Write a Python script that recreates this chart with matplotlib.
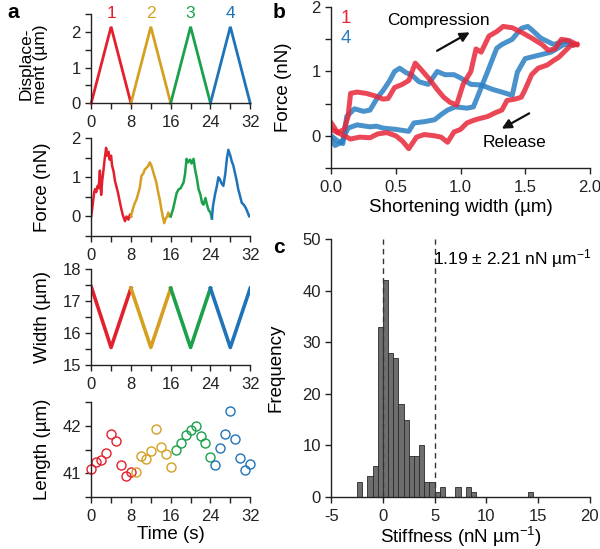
import numpy as np
import matplotlib.pyplot as plt
from matplotlib.ticker import MultipleLocator

plt.rcParams['font.family'] = ['Liberation Sans', 'DejaVu Sans']
plt.rcParams['mathtext.fontset'] = 'custom'
plt.rcParams['mathtext.rm'] = 'Liberation Sans'
plt.rcParams['mathtext.default'] = 'regular'
plt.rcParams['axes.unicode_minus'] = False
plt.rcParams['axes.linewidth'] = 1.0
plt.rcParams['axes.edgecolor'] = '#222222'

RED = '#e3202d'
GOLD = '#d5a021'
GREEN = '#1ba14b'
BLUE = '#1f73b8'
cycle_colors = [RED, GOLD, GREEN, BLUE]

# ---- panel a: displacement (triangle protocol)
disp_t = [[0, 4, 8], [8, 12, 16], [16, 20, 24], [24, 28, 32]]
disp_v = [[0, 2.15, 0], [0, 2.15, 0], [0, 2.15, 0], [0, 2.15, 0]]
cycle_labels = ['1', '2', '3', '4']

# ---- panel a: force traces
force_t = [
    [0, 0.3, 0.6, 0.8, 1.0, 1.3, 1.5, 1.75, 2.0, 2.2, 2.4, 2.7, 3.0, 3.2, 3.5,
     3.7, 4.0, 4.2, 4.5, 4.8, 5.1, 5.4, 5.8, 6.1, 6.4, 6.8, 7.1, 7.5, 7.8, 8.0],
    [8.0, 8.4, 8.8, 9.1, 9.5, 9.8, 10.1, 10.5, 10.8, 11.2, 11.5, 11.8, 12.1,
     12.5, 12.8, 13.1, 13.5, 13.8, 14.1, 14.4, 14.7, 15.0, 15.3, 15.5, 15.8, 16.0],
    [16.0, 16.5, 16.9, 17.2, 17.6, 18.0, 18.3, 18.6, 18.9, 19.2, 19.5, 19.9,
     20.2, 20.6, 20.9, 21.3, 21.6, 22.0, 22.3, 22.6, 23.0, 23.3, 23.6, 24.0, 24.3],
    [24.3, 24.5, 24.9, 25.3, 25.6, 25.9, 26.2, 26.6, 27.0, 27.3, 27.6, 28.0,
     28.3, 28.6, 28.9, 29.3, 29.6, 30.0, 30.3, 30.7, 31.1, 31.5, 31.8, 32.0],
]
force_v = [
    [0.0, 0.3, 0.62, 0.7, 0.62, 0.78, 0.72, 1.17, 0.55, 0.9, 1.1, 1.45, 1.75,
     1.55, 1.65, 1.45, 1.55, 1.3, 1.15, 0.9, 0.75, 0.6, 0.35, 0.17, 0.02,
     -0.12, 0.0, -0.08, 0.05, 0.0],
    [0.0, 0.2, 0.35, 0.43, 0.6, 0.75, 1.03, 1.1, 1.2, 1.25, 1.3, 1.38, 1.3,
     1.13, 1.0, 0.87, 0.6, 0.43, 0.2, 0.0, -0.17, -0.05, 0.0, 0.1, 0.0, 0.02],
    [0.0, 0.2, 0.43, 0.6, 0.69, 0.72, 0.8, 0.87, 1.1, 1.47, 1.38, 1.45, 1.35,
     1.47, 1.2, 0.95, 0.7, 0.55, 0.35, 0.3, 0.47, 0.3, 0.17, 0.1, -0.05],
    [-0.05, 0.26, 0.55, 0.78, 1.0, 0.95, 0.85, 0.78, 1.1, 1.47, 1.7, 1.55,
     1.4, 1.3, 1.13, 0.9, 0.69, 0.5, 0.35, 0.3, 0.22, 0.1, 0.0, 0.02],
]

# ---- panel a: width
width_t = [[0, 4, 8], [8, 12, 16], [16, 20, 24], [24, 28, 32]]
width_v = [[17.45, 15.55, 17.4], [17.4, 15.55, 17.4],
           [17.4, 15.55, 17.4], [17.4, 15.55, 17.4]]

# ---- panel a: length
length_t = [[0, 1, 2, 3, 4, 5, 6, 7, 8],
            [9, 10, 11, 12, 13, 14, 15, 16],
            [17, 18, 19, 20, 21, 22, 23, 24],
            [25, 26, 27, 28, 29, 30, 31, 32]]
length_v = [[41.1, 41.23, 41.28, 41.43, 41.82, 41.67, 41.17, 40.94, 41.03],
            [41.03, 41.36, 41.31, 41.47, 41.93, 41.56, 41.4, 41.13],
            [41.49, 41.64, 41.81, 41.91, 42.0, 41.79, 41.63, 41.35],
            [41.17, 41.53, 41.82, 42.32, 41.72, 41.33, 41.06, 41.19]]

# ---- panel b: force vs shortening width (cycles 1 and 4)
c1_comp_x = [0.0, 0.05, 0.1, 0.13, 0.15, 0.2, 0.27, 0.34, 0.4, 0.44, 0.49, 0.55,
             0.6, 0.65, 0.7, 0.76, 0.82, 0.87, 0.92, 0.97, 1.02, 1.08, 1.12, 1.16,
             1.22, 1.28, 1.33, 1.4, 1.48, 1.55, 1.63, 1.68, 1.73, 1.78, 1.84, 1.9]
c1_comp_y = [0.1, 0.05, 0.1, 0.3, 0.66, 0.68, 0.66, 0.62, 0.57, 0.58, 0.75, 0.8,
             0.86, 1.13, 1.02, 0.88, 0.72, 0.6, 0.52, 0.48, 0.8, 1.0, 1.35, 1.3,
             1.55, 1.62, 1.7, 1.68, 1.6, 1.52, 1.42, 1.33, 1.35, 1.5, 1.48, 1.42]
c1_rel_x = [1.9, 1.85, 1.8, 1.76, 1.72, 1.67, 1.6, 1.55, 1.5, 1.47, 1.42, 1.36,
            1.32, 1.27, 1.21, 1.15, 1.1, 1.05, 1.0, 0.95, 0.9, 0.85, 0.8, 0.72,
            0.66, 0.6, 0.55, 0.5, 0.43, 0.36, 0.3, 0.22, 0.15, 0.1, 0.05, 0.0]
c1_rel_y = [1.42, 1.4, 1.3, 1.22, 1.17, 1.1, 1.05, 0.95, 0.72, 0.6, 0.57, 0.55,
            0.4, 0.36, 0.3, 0.27, 0.24, 0.2, 0.1, 0.06, -0.1, -0.02, 0.0, 0.02,
            -0.02, -0.2, -0.08, 0.0, 0.05, 0.03, -0.03, -0.02, -0.05, 0.0, 0.05, 0.2]
c4_comp_x = [0.0, 0.05, 0.09, 0.12, 0.18, 0.25, 0.3, 0.36, 0.4, 0.45, 0.49, 0.53,
             0.58, 0.62, 0.68, 0.75, 0.82, 0.88, 0.95, 1.0, 1.08, 1.16, 1.25,
             1.32, 1.4, 1.44, 1.5, 1.6, 1.7, 1.8, 1.87]
c4_comp_y = [0.0, -0.08, -0.12, 0.3, 0.42, 0.38, 0.4, 0.6, 0.7, 0.85, 1.0, 1.05,
             0.98, 0.95, 0.84, 0.8, 1.0, 0.95, 0.95, 0.9, 0.8, 0.79, 0.72, 0.68,
             0.63, 0.99, 1.2, 1.25, 1.3, 1.42, 1.42]
c4_rel_x = [1.87, 1.82, 1.72, 1.62, 1.55, 1.52, 1.47, 1.4, 1.32, 1.28, 1.21, 1.15,
            1.1, 1.05, 0.96, 0.9, 0.85, 0.8, 0.72, 0.64, 0.6, 0.5, 0.4, 0.35, 0.3,
            0.2, 0.13, 0.08, 0.03, 0.0]
c4_rel_y = [1.42, 1.48, 1.42, 1.52, 1.65, 1.7, 1.67, 1.5, 1.42, 1.36, 1.0, 0.7,
            0.45, 0.43, 0.45, 0.4, 0.33, 0.25, 0.22, 0.2, 0.07, 0.1, 0.12, 0.15,
            0.14, 0.17, 0.12, -0.1, -0.15, -0.05]

# ---- panel c: stiffness histogram
bin_left = [-2.5, -1.5, -1.0, -0.5, 0.0, 0.5, 1.0, 1.5, 2.0, 2.5, 3.0, 3.5, 4.0,
            4.5, 5.0, 5.5, 7.0, 8.0, 8.5, 14.0]
counts = [3, 4, 6, 33, 42, 28, 27, 18, 15, 8, 8, 10, 3, 3, 1, 2, 2, 2, 1, 1]
bin_w = 0.5
stiff_mean = 1.19
stiff_sd = 2.21

TICK_FS = 12
LAB_FS = 13.5


def style(ax, fs=TICK_FS):
    for s in ['top', 'right']:
        ax.spines[s].set_visible(False)
    ax.tick_params(which='both', direction='out', length=4.5, width=1.0,
                   labelsize=fs, colors='#222222', pad=3)
    ax.tick_params(axis='x', pad=4)


fig = plt.figure(figsize=(6, 5.49), dpi=100)

# displacement
ax1 = fig.add_axes([0.152, 0.812, 0.265, 0.162])
for t, v, c, lab in zip(disp_t, disp_v, cycle_colors, cycle_labels):
    ax1.plot(t, v, color=c, lw=2.0, clip_on=False, solid_joinstyle='miter')
    ax1.text(t[1], 2.3, lab, color=c, ha='center', va='bottom', fontsize=12.5)
ax1.set_xlim(0, 32)
ax1.set_ylim(0, 2.5)
ax1.set_yticks([0, 1, 2])
ax1.yaxis.set_minor_locator(MultipleLocator(0.5))
ax1.set_ylabel('Displace-\nment (µm)', fontsize=12.5, linespacing=1.0)
ax1.yaxis.set_label_coords(-0.27, 0.44)

# force
ax2 = fig.add_axes([0.152, 0.570, 0.265, 0.1785])
for t, v, c in zip(force_t, force_v, cycle_colors):
    ax2.plot(t, v, color=c, lw=1.8)
ax2.set_xlim(0, 32)
ax2.set_ylim(-0.5, 2)
ax2.set_yticks([0, 1, 2])
ax2.yaxis.set_minor_locator(MultipleLocator(0.5))
ax2.set_ylabel('Force (nN)', fontsize=LAB_FS)
ax2.yaxis.set_label_coords(-0.25, 0.5)

# width
ax3 = fig.add_axes([0.152, 0.335, 0.265, 0.175])
for t, v, c in zip(width_t, width_v, cycle_colors):
    ax3.plot(t, v, color=c, lw=2.6)
ax3.set_xlim(0, 32)
ax3.set_ylim(15, 18)
ax3.set_yticks([15, 16, 17, 18])
ax3.yaxis.set_minor_locator(MultipleLocator(0.5))
ax3.set_ylabel('Width (µm)', fontsize=LAB_FS)
ax3.yaxis.set_label_coords(-0.25, 0.5)

# length
ax4 = fig.add_axes([0.152, 0.0947, 0.265, 0.173])
for t, v, c in zip(length_t, length_v, cycle_colors):
    ax4.plot(t, v, 'o', mfc='none', mec=c, ms=6.5, mew=1.0, clip_on=False)
ax4.set_xlim(0, 32)
ax4.set_ylim(40.5, 42.5)
ax4.set_yticks([41, 42])
ax4.yaxis.set_minor_locator(MultipleLocator(0.5))
ax4.set_ylabel('Length (µm)', fontsize=LAB_FS)
ax4.yaxis.set_label_coords(-0.25, 0.5)
ax4.set_xlabel('Time (s)', fontsize=LAB_FS, labelpad=1.5)

for ax in [ax1, ax2, ax3, ax4]:
    style(ax)
    ax.set_xticks([0, 8, 16, 24, 32])
    ax.xaxis.set_minor_locator(MultipleLocator(4))

# panel b
axb = fig.add_axes([0.552, 0.694, 0.431, 0.293])
axb.plot(c4_comp_x, c4_comp_y, color='#2a7fc2', lw=3.6, alpha=0.85)
axb.plot(c4_rel_x, c4_rel_y, color='#2a7fc2', lw=3.6, alpha=0.85)
axb.plot(c1_comp_x, c1_comp_y, color='#e8283a', lw=3.6, alpha=0.85)
axb.plot(c1_rel_x, c1_rel_y, color='#e8283a', lw=3.6, alpha=0.85)
axb.text(0.11, 1.83, '1', color='#e8283a', fontsize=13.5, ha='center', va='center')
axb.text(0.11, 1.52, '4', color='#2a7fc2', fontsize=13.5, ha='center', va='center')
axb.text(0.83, 1.8, 'Compression', fontsize=12.5, ha='center', va='center')
axb.annotate('', xy=(1.09, 1.63), xytext=(0.8, 1.3),
             arrowprops=dict(arrowstyle='-|>', color='#111111', lw=1.6,
                             mutation_scale=14))
axb.text(1.415, -0.1, 'Release', fontsize=12.5, ha='center', va='center')
axb.annotate('', xy=(1.3, 0.09), xytext=(1.55, 0.37),
             arrowprops=dict(arrowstyle='-|>', color='#111111', lw=1.6,
                             mutation_scale=14))
axb.set_xlim(0, 2)
axb.set_ylim(-0.5, 2)
axb.set_xticks([0, 0.5, 1.0, 1.5, 2.0])
axb.set_xticklabels(['0.0', '0.5', '1.0', '1.5', '2.0'])
axb.set_yticks([0, 1, 2])
axb.yaxis.set_minor_locator(MultipleLocator(0.5))
axb.set_xlabel('Shortening width (µm)', fontsize=LAB_FS, labelpad=3)
axb.set_ylabel('Force (nN)', fontsize=LAB_FS)
axb.yaxis.set_label_coords(-0.15, 0.5)
style(axb)

# panel c
axc = fig.add_axes([0.552, 0.0947, 0.431, 0.470])
axc.bar(bin_left, counts, width=bin_w, align='edge', color='#6e6e6e',
        edgecolor='#2a2a2a', lw=0.6)
for xv in [0, 5]:
    axc.plot([xv, xv], [0, 50], color='#333333', lw=1.0, ls=(0, (4, 3)))
axc.text(4.8, 46.3, f'{stiff_mean:.2f} ± {stiff_sd:.2f} nN µm$^{{-1}}$',
         fontsize=12.5, ha='left', va='center')
axc.set_xlim(-5, 20)
axc.set_ylim(0, 50)
axc.set_xticks([-5, 0, 5, 10, 15, 20])
axc.set_yticks([0, 10, 20, 30, 40, 50])
axc.set_xlabel('Stiffness (nN µm$^{-1}$)', fontsize=LAB_FS, labelpad=1)
axc.set_ylabel('Frequency', fontsize=LAB_FS)
axc.yaxis.set_label_coords(-0.18, 0.5)
style(axc)

fig.text(0.012, 0.978, 'a', fontsize=15, fontweight='bold', va='center')
fig.text(0.455, 0.978, 'b', fontsize=15, fontweight='bold', va='center')
fig.text(0.455, 0.55, 'c', fontsize=15, fontweight='bold', va='center')

fig.savefig('out.png', dpi=100)
